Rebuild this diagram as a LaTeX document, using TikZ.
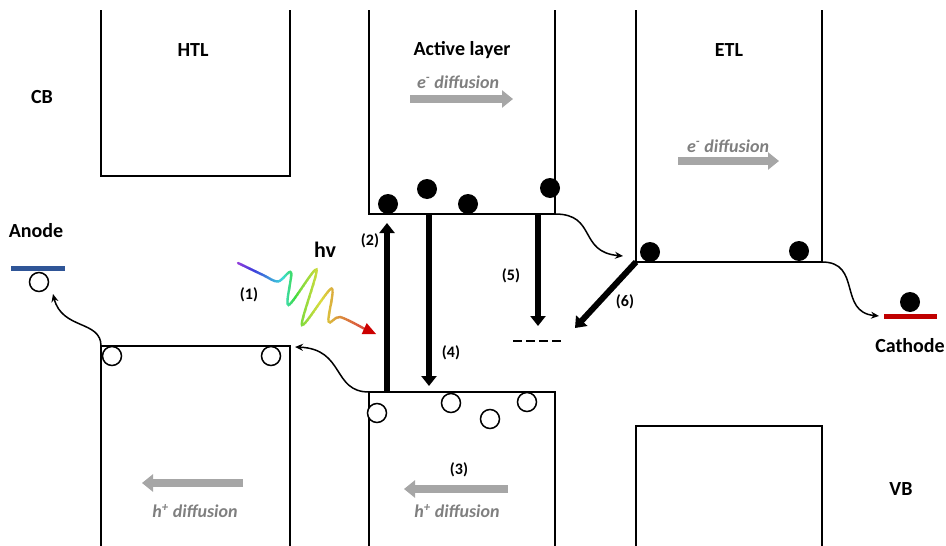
\documentclass[tikz,border=0pt]{standalone}
\usepackage{fontspec}
\setmainfont{Carlito}
\usetikzlibrary{arrows.meta}
\definecolor{arrgray}{RGB}{166,166,166}
\definecolor{txtgray}{RGB}{127,127,127}
\definecolor{anodeblue}{RGB}{47,85,151}
\definecolor{cathred}{RGB}{192,0,0}
\definecolor{tipred}{RGB}{204,0,0}
\begin{document}
\begin{tikzpicture}[x=1pt,y=-1pt,
  band/.style={line width=2pt, line join=miter},
  lbl/.style={font=\fontsize{20}{22}\selectfont\bfseries, inner sep=0},
  num/.style={font=\fontsize{16}{18}\selectfont\bfseries, inner sep=0},
  diff/.style={font=\fontsize{18}{20}\selectfont\bfseries\itshape, text=txtgray, inner sep=0},
  garrow/.style={arrgray, line width=8pt, -{Triangle[length=11pt,width=17pt]}},
  karrow/.style={line width=6pt, -{Triangle[length=10pt,width=15pt]}},
  thinarrow/.style={line width=1.5pt, -{Stealth[length=8pt,width=7pt]}},
  elec/.style={circle, fill=black, minimum size=20pt, inner sep=0},
  hole/.style={circle, draw=black, line width=1.5pt, fill=white, minimum size=19pt, inner sep=0},
]
\useasboundingbox (0,0) rectangle (946,546);

% band boxes
\draw[band] (101,10) -- (101,176) -- (290,176) -- (290,10);
\draw[band] (101,548) -- (101,346) -- (290,346) -- (290,548);
\draw[band] (369,10) -- (369,214) -- (555,214) -- (555,10);
\draw[band] (369,548) -- (369,392) -- (555,392) -- (555,548);
\draw[band] (636,10) -- (636,262) -- (822,262) -- (822,10);
\draw[band] (636,548) -- (636,426) -- (822,426) -- (822,548);

% corner coordinates
\coordinate (htlV) at (101,346);
\coordinate (actC) at (555,214);
\coordinate (actV) at (369,392);
\coordinate (etlC) at (822,262);
\coordinate (etlCL) at (636,262);

% labels
\node[lbl] (tHTL) at (193,50) {HTL};
\node[lbl] (tAct) at (462,50) {Active layer};
\node[lbl] (tETL) at (729,50) {ETL};
\node[lbl] (tCB) at (42,97) {CB};
\node[lbl] (tVB) at (901,489) {VB};
\node[lbl] (tAn) at (36,231) {Anode};
\node[lbl] (tCa) at (910,346) {Cathode};
\node[lbl, font=\fontsize{22}{24}\selectfont\bfseries] (thv) at (325,250) {hv};

\node[num] (n1) at (249,295) {(1)};
\node[num] (n2) at (370,241) {(2)};
\node[num] (n3) at (459,470) {(3)};
\node[num] (n4) at (451,353) {(4)};
\node[num] (n5) at (511,276) {(5)};
\node[num] (n6) at (625,302) {(6)};

% electrodes
\draw[anodeblue, line width=5pt] (11,268) -- (65,268);
\draw[cathred, line width=5pt] (884,316) -- (937,316);

% electrons
\node[elec] (e1) at (388,204) {};
\node[elec] (e2) at (427,189) {};
\node[elec] (e3) at (468,204) {};
\node[elec] (e4) at (550,188) {};
\node[elec] (e5) at (650,252) {};
\node[elec] (e6) at (799,251) {};
\node[elec] (e7) at (910,302) {};

% holes
\node[hole] (h0) at (39,282) {};
\node[hole] (h1) at (112,356) {};
\node[hole] (h2) at (271,356) {};
\node[hole] (h3) at (377,413) {};
\node[hole] (h4) at (451,403) {};
\node[hole] (h5) at (490,419) {};
\node[hole] (h6) at (527,402) {};

% diffusion arrows
\node[diff] (d1) at (458,82) {e\textsuperscript{-} diffusion};
\coordinate (d1a) at (410,99); \coordinate (d1b) at (513,99);
\draw[garrow] (d1a) -- (d1b);
\node[diff] (d2) at (728,146) {e\textsuperscript{-} diffusion};
\coordinate (d2a) at (678,161); \coordinate (d2b) at (779,161);
\draw[garrow] (d2a) -- (d2b);
\node[diff] (d3) at (195,511) {h\textsuperscript{+} diffusion};
\coordinate (d3a) at (243,483); \coordinate (d3b) at (142,483);
\draw[garrow] (d3a) -- (d3b);
\node[diff] (d4) at (457,511) {h\textsuperscript{+} diffusion};
\coordinate (d4a) at (508,489); \coordinate (d4b) at (404,489);
\draw[garrow] (d4a) -- (d4b);

% thick transition arrows
\coordinate (a2s) at (387,392); \coordinate (a2e) at (387,223);
\draw[karrow] (a2s) -- (a2e);
\coordinate (a4s) at (429,214); \coordinate (a4e) at (429,386);
\draw[karrow] (a4s) -- (a4e);
\coordinate (a5s) at (538,214); \coordinate (a5e) at (538,326);
\draw[karrow] (a5s) -- (a5e);
\coordinate (a6e) at (575,328);
\draw[karrow] (etlCL) -- (a6e);

% trap level (four dashes)
\foreach \dx in {513,526,539,552}
  \draw[line width=2.5pt] (\dx,341) -- (\dx+9,341);

% thin curved arrows
\coordinate (c1e) at (623,256);
\draw[thinarrow] (actC) .. controls (597,214) and (578,252) .. (c1e);
\coordinate (c2e) at (879,316);
\draw[thinarrow] (etlC) .. controls (862,262) and (838,312) .. (c2e);
\coordinate (c3e) at (295,347);
\draw[thinarrow] (actV) .. controls (332,392) and (345,349) .. (c3e);
\coordinate (c4e) at (53,294);
\draw[thinarrow] (htlV) .. controls (101,320) and (62,330) .. (c4e);

% photon wave with rainbow gradient
\foreach \xa in {234,236,...,370} {
  \pgfmathsetmacro\hh{max(0,(\xa<280 ? 270-(\xa-238)*85/42 : (\xa<300 ? 185-(\xa-280)*4.5 : (\xa<320 ? 95-(\xa-300)*1.75 : (\xa<340 ? 60-(\xa-320)*1.5 : 30-(\xa-340)*1.1)))))}
  \definecolor{wc}{Hsb}{\hh,0.72,0.86}
  \begin{scope}
    \clip (\xa,200) rectangle (\xa+2.3,345);
    \draw[wc, line width=2.4pt, line cap=round] plot[smooth, tension=0.55] coordinates {(238,263) (263,275) (278,281.5) (291,272.5) (288.5,305) (316.5,269.5) (302,325) (331.5,288.5) (328.5,321.5) (340,317) (364,328.6)};
  \end{scope}
}
\fill[tipred] (376,334) -- (361.7,334.1) -- (366.7,323.1) -- cycle;
\end{tikzpicture}
\end{document}
